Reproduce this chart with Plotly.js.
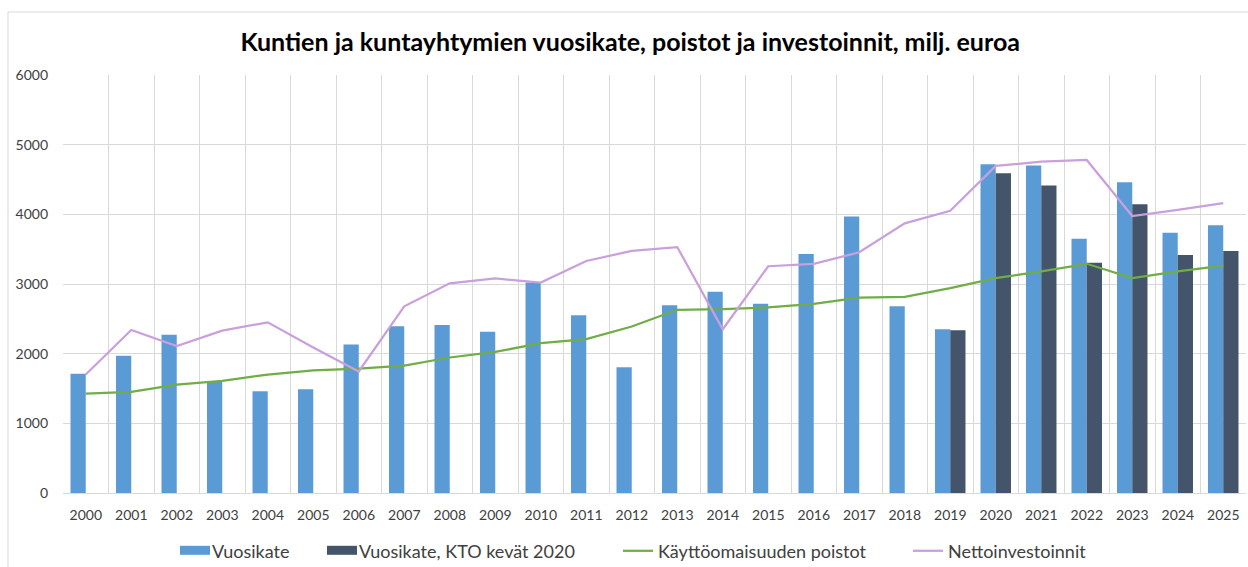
<!DOCTYPE html>
<html><head><meta charset="utf-8">
<script src="https://cdn.plot.ly/plotly-3.0.1.min.js"></script>
<style>html,body{margin:0;padding:0;background:#fff}#chart{width:1248px;height:567px}</style>
</head><body><div id="chart"></div>
<script>
const years = ['2000','2001','2002','2003','2004','2005','2006','2007','2008','2009','2010','2011','2012','2013','2014','2015','2016','2017','2018','2019','2020','2021','2022','2023','2024','2025'];
const vuosikate = [1710,1970,2270,1600,1460,1490,2130,2395,2410,2315,3020,2550,1805,2695,2890,2715,3430,3970,2680,2350,4720,4700,3650,4460,3735,3845];
const vuosikateKTO = [null,null,null,null,null,null,null,null,null,null,null,null,null,null,null,null,null,null,null,2335,4590,4415,3305,4145,3415,3475];
const poistot = [1425,1450,1555,1610,1700,1760,1785,1830,1945,2025,2150,2210,2390,2630,2640,2665,2715,2805,2815,2940,3085,3180,3290,3085,3180,3265];
const nettoinvestoinnit = [1700,2340,2110,2330,2450,2090,1745,2680,3010,3080,3020,3330,3475,3530,2350,3255,3290,3455,3870,4050,4695,4755,4780,3975,4065,4160];
const seriesNames = ['Vuosikate','Vuosikate, KTO kevät 2020','Käyttöomaisuuden poistot','Nettoinvestoinnit'];

const traces = [
  {type:'bar', name:seriesNames[0], x:years, y:vuosikate, marker:{color:'#5b9bd5'}},
  {type:'bar', name:seriesNames[1], x:years, y:vuosikateKTO, marker:{color:'#44546a'}},
  {type:'scatter', mode:'lines', name:seriesNames[2], x:years, y:poistot, line:{color:'#70ad47', width:2.25}},
  {type:'scatter', mode:'lines', name:seriesNames[3], x:years, y:nettoinvestoinnit, line:{color:'#c9a0dc', width:2.25}}
];

const layout = {
  width:1248, height:567,
  margin:{l:63, r:2, t:75, b:74, autoexpand:false},
  paper_bgcolor:'#ffffff', plot_bgcolor:'#ffffff',
  font:{family:'Lato, sans-serif', color:'#404040', size:14},
  title:{text:'<b>Kuntien ja kuntayhtymien vuosikate, poistot ja investoinnit, milj. euroa</b>',
         font:{family:'Lato, sans-serif', size:25, color:'#000000'},
         xref:'container', x:0.505, xanchor:'center', yref:'container', y:0.926, yanchor:'middle'},
  barmode:'group', bargap:0.33, bargroupgap:0,
  xaxis:{type:'category', tickson:'boundaries', showgrid:true, gridcolor:'#d9d9d9', gridwidth:1,
         ticks:'', showline:false, zeroline:false, tickfont:{size:14, color:'#404040'},
         ticklabelstandoff:12, fixedrange:true},
  yaxis:{range:[0,6000], dtick:1000, showgrid:true, gridcolor:'#d9d9d9', gridwidth:1,
         zeroline:true, zerolinecolor:'#d9d9d9', zerolinewidth:1, showline:false, ticks:'',
         tickfont:{size:14, color:'#404040'}, ticklabelstandoff:14, fixedrange:true},
  legend:{orientation:'h', x:0.484, xanchor:'center', y:-0.139, yanchor:'middle',
          font:{size:18, color:'#404040'}, itemwidth:30, traceorder:'normal'},
  shapes:[
    {type:'line', xref:'paper', yref:'paper', x0:-0.0465, x1:1.01, y0:1.1507, y1:1.1507, line:{color:'#d9d9d9', width:1}},
    {type:'line', xref:'paper', yref:'paper', x0:-0.0465, x1:-0.0465, y0:1.1507, y1:-0.2, line:{color:'#d9d9d9', width:1}}
  ],
  showlegend:true
};
const legendItemStarts = [172, 319, 618, 908];
Plotly.newPlot('chart', traces, layout, {displayModeBar:false, staticPlot:true}).then(function(gd){
  // widen bar legend swatches to match the reference's wide rectangles
  gd.querySelectorAll('.legend .legendpoints path').forEach(function(p){
    p.setAttribute('d','M-12,-5h30v9h-30Z');
  });
  // spread legend entries like the reference
  const leg = gd.querySelector('g.legend');
  if (!leg) return;
  const m = /translate\(\s*([-\d.]+)[ ,]+([-\d.]+)/.exec(leg.getAttribute('transform') || '');
  const lx = m ? parseFloat(m[1]) : 0;
  const sb = leg.querySelector('.scrollbox');
  if (sb) sb.removeAttribute('clip-path');
  leg.querySelectorAll('g.traces').forEach(function(t, i){
    const tm = /translate\(\s*([-\d.]+)[ ,]+([-\d.]+)/.exec(t.getAttribute('transform') || '');
    const ty = tm ? parseFloat(tm[2]) : 0;
    if (i < legendItemStarts.length) t.setAttribute('transform','translate(' + (legendItemStarts[i] - lx) + ',' + ty + ')');
  });
});
</script></body></html>
